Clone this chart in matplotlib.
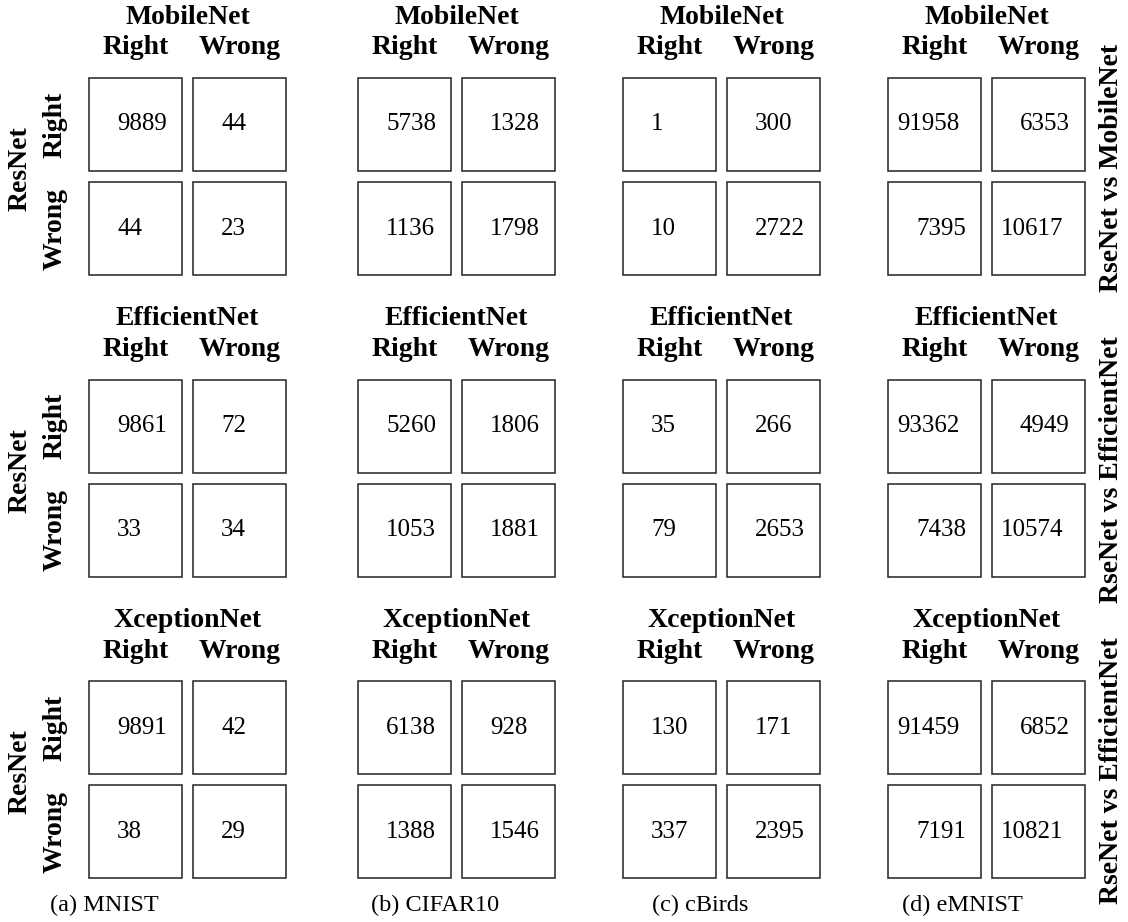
import matplotlib.pyplot as plt
from matplotlib.patches import Rectangle

datasets = ['MNIST', 'CIFAR10', 'cBirds', 'eMNIST']
tags = ['(a)', '(b)', '(c)', '(d)']
models = ['MobileNet', 'EfficientNet', 'XceptionNet']
side_labels = ['RseNet vs MobileNet', 'RseNet vs EfficientNet', 'RseNet vs EfficientNet']
classes = ['Right', 'Wrong']

# [Right/Right, Right/Wrong, Wrong/Right, Wrong/Wrong] per dataset
mobilenet = [[9889, 44, 44, 23], [5738, 1328, 1136, 1798],
             [1, 300, 10, 2722], [91958, 6353, 7395, 10617]]
efficientnet = [[9861, 72, 33, 34], [5260, 1806, 1053, 1881],
                [35, 266, 79, 2653], [93362, 4949, 7438, 10574]]
xceptionnet = [[9891, 42, 38, 29], [6138, 928, 1388, 1546],
               [130, 171, 337, 2395], [91459, 6852, 7191, 10821]]
counts = [mobilenet, efficientnet, xceptionnet]

# layout in pixels
col_left = [89, 358, 623, 888]
row_top = [78, 379.5, 681]
cap_x = [50, 371, 652, 902]
box = 93
step = 104

plt.rcParams['font.family'] = ['Liberation Serif', 'DejaVu Serif']

fig = plt.figure(figsize=(11.28, 9.22), dpi=100)
ax = fig.add_axes([0, 0, 1, 1])
ax.set_xlim(0, 1128)
ax.set_ylim(922, 0)
ax.axis('off')

bold = dict(fontsize=20, fontweight='bold')

for i, model in enumerate(models):
    y0 = row_top[i]
    for j in range(len(datasets)):
        x0 = col_left[j]
        ax.text(x0 + (box + step) / 2, y0 - 61, model, ha='center', va='center', **bold)
        for k, c in enumerate(classes):
            ax.text(x0 + box / 2 + k * step, y0 - 30, c, ha='center', va='center', **bold)
        for r in range(2):
            for c in range(2):
                bx = x0 + c * step
                by = y0 + r * step
                ax.add_patch(Rectangle((bx, by), box, box, fill=False,
                                       edgecolor='#222222', lw=1.1))
                v = counts[i][j][r * 2 + c]
                off = 28 if v < 10000 else 9
                ax.text(bx + off, by + box / 2, str(v), ha='left', va='center',
                        fontsize=18)
    # row labels on the left
    for k, c in enumerate(classes):
        ax.text(55, y0 + box / 2 + k * step, c, ha='center', va='center',
                rotation=90, **bold)
    ax.text(20, y0 + 91, 'ResNet', ha='center', va='center', rotation=90, **bold)
    ax.text(1112, y0 + 90, side_labels[i], ha='center', va='center',
            rotation=90, **bold)

for j, name in enumerate(datasets):
    ax.text(cap_x[j], 905, tags[j] + ' ' + name, ha='left', va='center',
            fontsize=17.5)

fig.savefig('out.png', dpi=100)
